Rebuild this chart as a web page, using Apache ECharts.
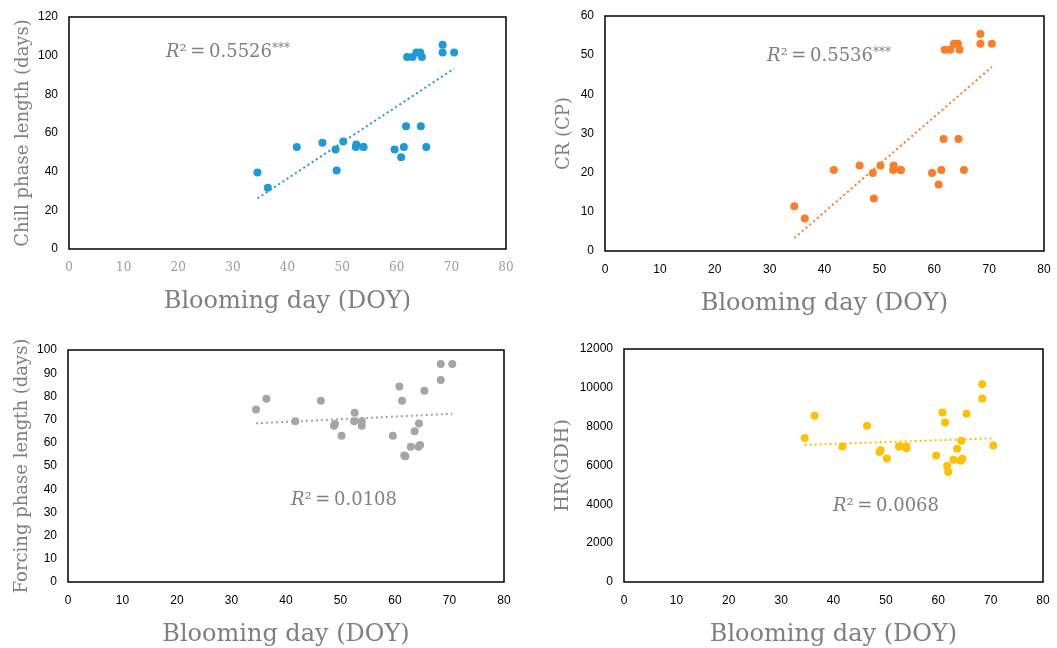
<!DOCTYPE html>
<html><head><meta charset="utf-8">
<script src="https://cdn.jsdelivr.net/npm/echarts@6/dist/echarts.min.js"></script>
<style>html,body{margin:0;padding:0;background:#fff}#c{width:1057px;height:648px}</style>
</head><body><div id="c"></div>
<script>
// Blooming day (DOY), shared by all four panels
const bloomDay = [34.5,36.4,41.7,46.4,48.8,49.0,50.2,52.5,52.6,53.9,53.9,59.6,60.8,61.3,61.7,61.9,62.9,63.6,64.3,64.4,64.6,65.4,68.4,68.4,70.5];
const chillLength = [39.6,31.7,52.7,54.9,51.5,40.6,55.6,52.7,54.1,52.7,52.7,51.5,47.5,52.7,63.5,99.3,99.3,101.6,101.6,63.5,99.3,52.7,105.7,101.6,101.6];
const chillReq = [11.4,8.3,20.7,21.8,19.9,13.4,21.8,20.7,21.8,20.7,20.7,19.9,17.0,20.7,28.6,51.4,51.4,52.9,52.9,28.6,51.4,20.7,55.4,52.9,52.9];
const forcingLength = [74.4,79.0,69.3,78.1,67.3,68.1,63.0,69.3,73.0,69.3,67.3,63.0,84.3,78.1,54.5,54.2,58.3,65.0,58.3,68.3,59.0,82.4,94.0,87.1,94.0];
const heatReq = [7420,8560,6980,8050,6690,6790,6360,6980,6980,6980,6890,6520,8730,8220,5970,5670,6300,6860,6250,7270,6350,8660,10190,9450,7030];
// Trendline end points [x, y]
const trendX = [34.5, 70.5];
const trendChill = [26.2, 93.3];
const trendCR = [3.3, 47.0];
const trendForcing = [68.4, 72.5];
const trendHR = [7060, 7400];
const r2Labels = ['0.5526', '0.5536', '0.0108', '0.0068'];
const r2Stars = ['***', '***', '', ''];
const yNames = ['Chill phase length (days)', 'CR (CP)', 'Forcing phase length (days)', 'HR(GDH)'];
const xName = 'Blooming day (DOY)';

const colors = ['#1E9AD6', '#FB7D27', '#A5A5A5', '#FFC000'];
const ySets = [chillLength, chillReq, forcingLength, heatReq];
const trends = [trendChill, trendCR, trendForcing, trendHR];
const yAxes = [{max:120, interval:20}, {max:60, interval:10}, {max:100, interval:10}, {max:12000, interval:2000}];
const grids = [
  {left:69, top:17, width:437, height:232},
  {left:605, top:16, width:439, height:235},
  {left:68, top:350, width:436, height:234},
  {left:624, top:349, width:419, height:235}
];
const yGaps = [37, 32, 37, 51];
const yNameSize = [18, 18, 18, 19];
const labelPos = [[166,53],[767,57],[291,501],[833,507]];

const grey = '#7F7F7F';
const serif = 'DejaVu Serif';
const sans = 'Liberation Sans';

const chart = echarts.init(document.getElementById('c'), null, {renderer:'canvas'});
const option = {
  animation:false,
  backgroundColor:'#fff',
  grid: grids.map(g => Object.assign({show:true, borderColor:'#000', borderWidth:1.5, backgroundColor:'transparent'}, g)),
  xAxis: grids.map((g,i) => ({
    type:'value', gridIndex:i, min:0, max:80, interval:10,
    name:xName, nameLocation:'middle', nameGap:41,
    nameTextStyle:{fontFamily:serif, fontSize:24, color:grey},
    axisLine:{show:false}, axisTick:{show:false}, splitLine:{show:false},
    axisLabel:{margin:13, fontSize:12, fontFamily: i===0?serif:sans, color: i===0?'#9a9a9a':'#000'}
  })),
  yAxis: grids.map((g,i) => ({
    type:'value', gridIndex:i, min:0, max:yAxes[i].max, interval:yAxes[i].interval,
    name:yNames[i], nameLocation:'middle', nameGap:yGaps[i],
    nameTextStyle:{fontFamily:serif, fontSize:yNameSize[i], color:grey},
    axisLine:{show:false}, axisTick:{show:false}, splitLine:{show:false},
    axisLabel:{margin:11, fontSize:12, fontFamily:sans, color:'#000', formatter: v => String(v)}
  })),
  series: [],
  graphic: labelPos.map((p,i) => ({
    type:'text', left:p[0], top:p[1]-10,
    style:{
      text:'{i|R}{n|²\u2009=\u2009' + r2Labels[i] + '}' + (r2Stars[i] ? '{s|' + r2Stars[i] + '}' : ''),
      rich:{
        i:{fontFamily:serif, fontStyle:'italic', fontSize:18, fill:grey, color:grey},
        n:{fontFamily:serif, fontSize:18, fill:grey, color:grey},
        s:{fontFamily:serif, fontSize:12, fill:grey, color:grey, verticalAlign:'top', padding:[0,0,6,0]}
      }
    }
  }))
};
ySets.forEach((ys,i) => {
  option.series.push({
    type:'line', xAxisIndex:i, yAxisIndex:i, showSymbol:false, silent:true,
    data: trendX.map((x,k) => [x, trends[i][k]]),
    lineStyle:{color:colors[i], width:2, type:[2,3]}, z:1
  });
  option.series.push({
    type:'scatter', xAxisIndex:i, yAxisIndex:i, symbolSize:8,
    itemStyle:{color:colors[i], opacity:1},
    data: bloomDay.map((x,k) => [x, ys[k]]), z:2
  });
});
chart.setOption(option);
</script>
</body></html>
